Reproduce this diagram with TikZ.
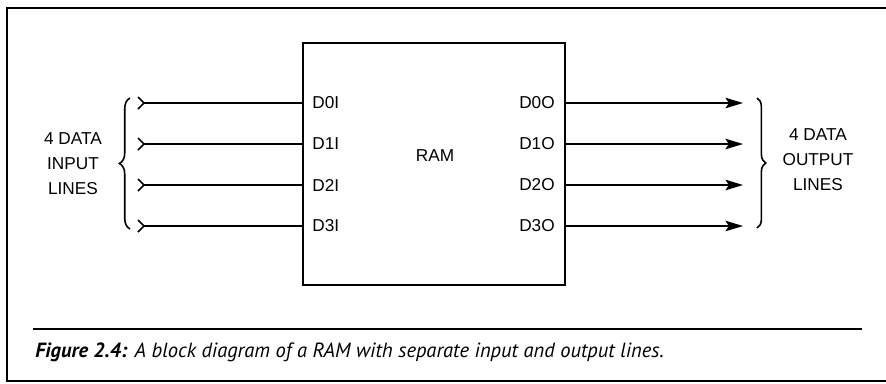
\documentclass[tikz,border=0pt]{standalone}
\usepackage{fontspec}
\setmainfont{Liberation Serif}
\setsansfont{Liberation Sans}
\newfontfamily\capfont{PT Sans}
\usetikzlibrary{arrows.meta,decorations.pathreplacing,positioning}
\tikzset{
  pinlbl/.style={font=\sffamily\fontsize{9.8}{11}\selectfont,inner sep=0pt},
  buslbl/.style={font=\sffamily\fontsize{9.8}{14.2}\selectfont,align=center,inner sep=0pt},
  rambox/.style={draw,line width=1pt,minimum width=5.24cm,minimum height=4.84cm,inner sep=0pt},
  sig/.style={line width=0.9pt},
  outsig/.style={line width=0.9pt,-{Stealth[length=10pt,width=6pt,inset=2pt]}},
  bus/.style={decorate,decoration={brace,amplitude=#1},line width=0.9pt},
}

\begin{document}
\begin{tikzpicture}[x=0.02cm,y=-0.02cm]
	\useasboundingbox (0,0) rectangle (886,383);
	\draw[line width=1.2pt] (886,8) -- (7,8) -- (7,381) -- (886,381);
    \node[rambox] (ram) at (434,164) {};
    \node[pinlbl] (ramlbl) at (435,156) {RAM};
    \node[pinlbl,anchor=west] (d0i) at (312,103) {D0I};
    \node[pinlbl,anchor=west] (d1i) at (312,144) {D1I};
    \node[pinlbl,anchor=west] (d2i) at (312,185) {D2I};
    \node[pinlbl,anchor=west] (d3i) at (312,226) {D3I};
    \node[pinlbl,anchor=east] (d0o) at (555,103) {D0O};
    \node[pinlbl,anchor=east] (d1o) at (555,144) {D1O};
    \node[pinlbl,anchor=east] (d2o) at (555,185) {D2O};
    \node[pinlbl,anchor=east] (d3o) at (555,226) {D3O};
    % input ends
    \coordinate (i0) at (144,103);
    \coordinate (i1) at (144,144);
    \coordinate (i2) at (144,185);
    \coordinate (i3) at (144,226);
     \draw[sig] (i0) -- (i0 -| ram.west);
     \draw[sig] (i1) -- (i1 -| ram.west);
     \draw[sig] (i2) -- (i2 -| ram.west);
     \draw[sig] (i3) -- (i3 -| ram.west);
     \draw[sig] ([shift={(-6,-6)}]i0) -- (i0) -- ([shift={(-6,6)}]i0);
     \draw[sig] ([shift={(-6,-6)}]i1) -- (i1) -- ([shift={(-6,6)}]i1);
     \draw[sig] ([shift={(-6,-6)}]i2) -- (i2) -- ([shift={(-6,6)}]i2);
     \draw[sig] ([shift={(-6,-6)}]i3) -- (i3) -- ([shift={(-6,6)}]i3);
    % output ends
    \coordinate (o0) at (743,103);
    \coordinate (o1) at (743,144);
    \coordinate (o2) at (743,185);
    \coordinate (o3) at (743,226);
     \draw[outsig] (o0 -| ram.east) -- (o0);
     \draw[outsig] (o1 -| ram.east) -- (o1);
     \draw[outsig] (o2 -| ram.east) -- (o2);
     \draw[outsig] (o3 -| ram.east) -- (o3);
    \coordinate (inbot) at (130,229);
    \coordinate (intop) at (130,98);
    \coordinate (outtop) at (757,98);
    \coordinate (outbot) at (757,228);
     \draw[bus=6pt] (inbot) -- (intop);
     \draw[bus=5pt] (outtop) -- (outbot);
    \node[buslbl] (inlbl) at (73,164) {4 DATA\\INPUT\\LINES};
    \node[buslbl] (outlbl) at (818,160) {4 DATA\\OUTPUT\\LINES};
    % caption
    \coordinate (rl) at (33,329);
    \coordinate (rr) at (862,329);
     \draw[line width=1.2pt] (rl) -- (rr);
    \node[anchor=base west,inner sep=0pt,font=\capfont\itshape\fontsize{11.7}{14}\selectfont] (cap) at (35,357)
      {\textbf{Figure 2.4:} A block diagram of a RAM with separate input and output lines.};
\end{tikzpicture}
\end{document}
